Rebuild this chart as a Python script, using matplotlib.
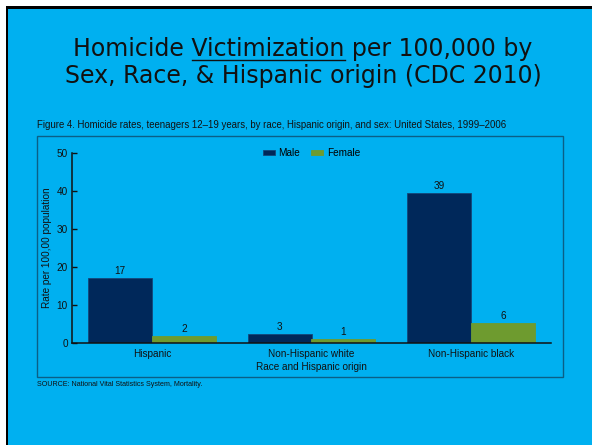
import matplotlib
matplotlib.use('Agg')
import matplotlib.pyplot as plt
from matplotlib.patches import Rectangle
from matplotlib.lines import Line2D
import numpy as np

# data
groups = ['Hispanic', 'Non-Hispanic white', 'Non-Hispanic black']
male = [17.0, 2.4, 39.4]
female = [1.9, 1.05, 5.3]
male_labels = ['17', '3', '39']
female_labels = ['2', '1', '6']
yticks = [0, 10, 20, 30, 40, 50]

CYAN = '#00b0f0'
NAVY = '#00285a'
OLIVE = '#6e9b2f'
FRAME = '#0b5f86'
INK = '#111111'
FS = 7.2

W, H = 592, 445
fig = plt.figure(figsize=(W / 100, H / 100), dpi=100, facecolor='white')


def fx(px):
    return px / W


def fy(py):
    return 1 - py / H


# slide background + border (kept below the axes)
fig.patches.append(Rectangle((fx(8), 0), 1, fy(9), transform=fig.transFigure,
                             facecolor=CYAN, edgecolor='none', zorder=-2))
fig.patches.append(Rectangle((fx(6), 0), fx(2), fy(6), transform=fig.transFigure,
                             facecolor='black', edgecolor='none', zorder=-1))
fig.patches.append(Rectangle((fx(6), fy(9)), 1, 3 / H, transform=fig.transFigure,
                             facecolor='black', edgecolor='none', zorder=-1))
# chart frame
fig.patches.append(Rectangle((fx(37), fy(377)), fx(563) - fx(37), fy(136) - fy(377),
                             transform=fig.transFigure, fill=False,
                             edgecolor=FRAME, lw=1.0, zorder=-1))

# title
TSIZE = 17
tfont = dict(family='DejaVu Sans', fontsize=TSIZE, color=INK, ha='center', va='baseline')
line1 = 'Homicide Victimization per 100,000 by'
t1 = fig.text(fx(303), fy(56), line1, **tfont)
fig.text(fx(303), fy(83.5), 'Sex, Race, & Hispanic origin (CDC 2010)', **tfont)

cfont = dict(family='Liberation Sans', color=INK)
fig.text(fx(37), fy(125.5), 'Figure 4. Homicide rates, teenagers 12\u201319 years, by race, '
         'Hispanic origin, and sex: United States, 1999\u20132006',
         fontsize=6.9, va='center', ha='left', **cfont)
fig.text(fx(37), fy(385), 'SOURCE: National Vital Statistics System, Mortality.',
         fontsize=5.1, va='center', ha='left', **cfont)

ax = fig.add_axes([fx(72), fy(343), fx(551) - fx(72), fy(153) - fy(343)])
ax.set_facecolor('none')
x = np.arange(len(groups))
w = 0.4
bm = ax.bar(x - w / 2, male, w, color=NAVY, edgecolor='#14467a', lw=0.6, label='Male')
bf = ax.bar(x + w / 2, female, w, color=OLIVE, edgecolor=OLIVE, lw=0.6, label='Female')
ax.bar_label(bm, labels=male_labels, padding=1.5, fontsize=FS, **cfont)
ax.bar_label(bf, labels=female_labels, padding=1.5, fontsize=FS, **cfont)

ax.set_xlim(-0.5, 2.5)
ax.set_ylim(0, 50)
ax.set_yticks(yticks)
ax.set_xticks(x)
ax.set_xticklabels(groups, fontsize=FS, family='Liberation Sans', color=INK)
for lab in ax.get_yticklabels():
    lab.set_family('Liberation Sans')
ax.tick_params(axis='y', direction='in', length=3.5, width=1.0, labelsize=FS,
               pad=3, colors=INK)
ax.tick_params(axis='x', length=0, pad=4, labelcolor=INK)
for s in ['top', 'right']:
    ax.spines[s].set_visible(False)
for s in ['left', 'bottom']:
    ax.spines[s].set_color(INK)
    ax.spines[s].set_linewidth(1.1)
ax.set_ylabel('Rate per 100,00 population', fontsize=FS, labelpad=3, **cfont)
ax.set_xlabel('Race and Hispanic origin', fontsize=FS, labelpad=2.5, **cfont)

leg = ax.legend(loc='center', bbox_to_anchor=(0.5, 1.0), ncol=2, frameon=False,
                prop={'family': 'Liberation Sans', 'size': FS},
                handlelength=1.2, handleheight=0.5, handletextpad=0.35,
                columnspacing=1.1, borderaxespad=0)

# underline "Victimization"
fig.canvas.draw()
r = fig.canvas.get_renderer()
ext = t1.get_window_extent(r)


def text_w(s):
    tt = fig.text(0, 0, s, family='DejaVu Sans', fontsize=TSIZE)
    wd = tt.get_window_extent(r).width
    tt.remove()
    return wd


x_end = ext.x0 + text_w('Homicide Victimization')
x_start = x_end - text_w('Victimization')
fig.lines.append(Line2D([x_start / W, x_end / W], [fy(60), fy(60)],
                        transform=fig.transFigure, color=INK, lw=1.0))

fig.savefig('out.png', dpi=100, facecolor='white')
